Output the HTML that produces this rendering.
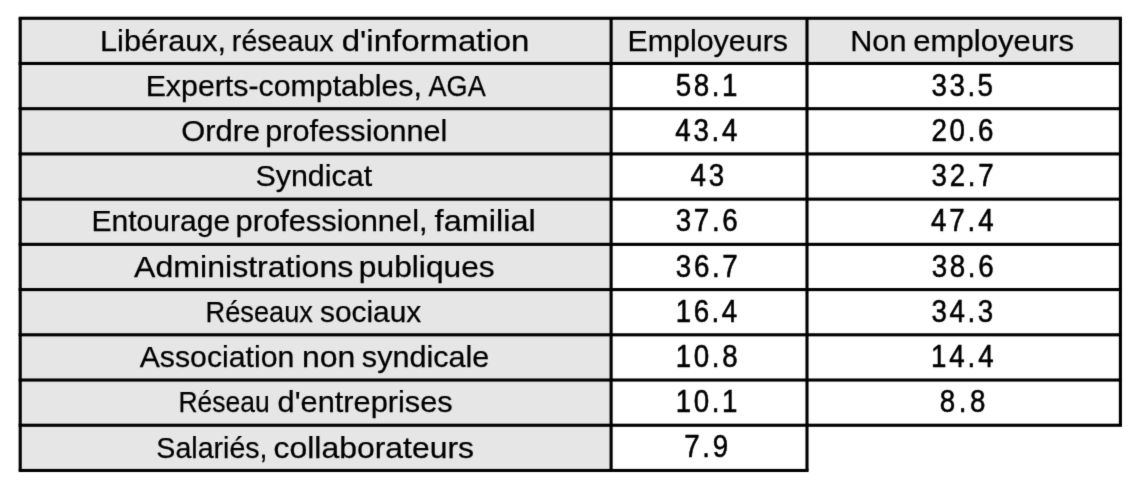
<!DOCTYPE html>
<html lang="fr">
<head>
<meta charset="utf-8">
<title>Libéraux, réseaux d&#39;information</title>
<style>
html,body{margin:0;padding:0;background:#fff;}
body{width:1142px;height:488px;overflow:hidden;}
svg{display:block;}
text{font-family:"Liberation Sans",sans-serif;font-size:29.8px;fill:#000;stroke:#000;stroke-width:0.25px;}
text.n{font-size:30.8px;stroke-width:0.55px;}
</style>
</head>
<body>
<svg width="1142" height="488" viewBox="0 0 1142 488">
<defs><filter id="soft" x="0" y="0" width="100%" height="100%" color-interpolation-filters="sRGB"><feConvolveMatrix order="3" kernelMatrix="0.01134 0.08382 0.01134 0.08382 0.61935 0.08382 0.01134 0.08382 0.01134" divisor="1" edgeMode="duplicate" preserveAlpha="true"/></filter></defs>
<g filter="url(#soft)">
<rect x="0" y="0" width="1142" height="488" fill="#fff"/>
<!-- shaded header row and first column -->
<rect x="20.20" y="18.25" width="1100.20" height="45.22" fill="#e6e6e6"/>
<rect x="20.20" y="18.25" width="590.90" height="452.22" fill="#e6e6e6"/>
<!-- horizontal rules -->
<rect x="18.65" y="16.70" width="1103.30" height="3.10" fill="#000"/>
<rect x="18.65" y="61.92" width="1103.30" height="3.10" fill="#000"/>
<rect x="18.65" y="107.14" width="1103.30" height="3.10" fill="#000"/>
<rect x="18.65" y="152.37" width="1103.30" height="3.10" fill="#000"/>
<rect x="18.65" y="197.59" width="1103.30" height="3.10" fill="#000"/>
<rect x="18.65" y="242.81" width="1103.30" height="3.10" fill="#000"/>
<rect x="18.65" y="288.03" width="1103.30" height="3.10" fill="#000"/>
<rect x="18.65" y="333.25" width="1103.30" height="3.10" fill="#000"/>
<rect x="18.65" y="378.48" width="1103.30" height="3.10" fill="#000"/>
<rect x="18.65" y="423.70" width="1103.30" height="3.10" fill="#000"/>
<rect x="18.65" y="468.92" width="789.90" height="3.10" fill="#000"/>
<!-- vertical rules -->
<rect x="18.65" y="18.25" width="3.10" height="452.22" fill="#000"/>
<rect x="609.55" y="18.25" width="3.10" height="452.22" fill="#000"/>
<rect x="805.45" y="18.25" width="3.10" height="452.22" fill="#000"/>
<rect x="1118.85" y="18.25" width="3.10" height="407.00" fill="#000"/>
<!-- cell text -->
<text y="50.50"><tspan x="100.09" textLength="126.01" lengthAdjust="spacingAndGlyphs">Libéraux,</tspan> <tspan x="231.86" textLength="101.83" lengthAdjust="spacingAndGlyphs">réseaux</tspan> <tspan x="341.74" textLength="187.74" lengthAdjust="spacingAndGlyphs">d&#39;information</tspan></text>
<text y="95.72"><tspan x="145.67" textLength="276.29" lengthAdjust="spacingAndGlyphs">Experts-comptables,</tspan> <tspan x="428.54" textLength="57.19" lengthAdjust="spacingAndGlyphs">AGA</tspan></text>
<text y="140.94"><tspan x="181.25" textLength="78.87" lengthAdjust="spacingAndGlyphs">Ordre</tspan> <tspan x="265.34" textLength="181.99" lengthAdjust="spacingAndGlyphs">professionnel</tspan></text>
<text y="186.17"><tspan x="255.44" textLength="116.71" lengthAdjust="spacingAndGlyphs">Syndicat</tspan></text>
<text y="231.39"><tspan x="91.47" textLength="138.74" lengthAdjust="spacingAndGlyphs">Entourage</tspan> <tspan x="235.48" textLength="192.14" lengthAdjust="spacingAndGlyphs">professionnel,</tspan> <tspan x="434.64" textLength="101.17" lengthAdjust="spacingAndGlyphs">familial</tspan></text>
<text y="276.61"><tspan x="134.12" textLength="219.23" lengthAdjust="spacingAndGlyphs">Administrations</tspan> <tspan x="358.89" textLength="135.85" lengthAdjust="spacingAndGlyphs">publiques</tspan></text>
<text y="321.83"><tspan x="205.50" textLength="107.39" lengthAdjust="spacingAndGlyphs">Réseaux</tspan> <tspan x="319.96" textLength="101.32" lengthAdjust="spacingAndGlyphs">sociaux</tspan></text>
<text y="367.05"><tspan x="139.71" textLength="154.64" lengthAdjust="spacingAndGlyphs">Association</tspan> <tspan x="302.03" textLength="53.31" lengthAdjust="spacingAndGlyphs">non</tspan> <tspan x="361.86" textLength="127.51" lengthAdjust="spacingAndGlyphs">syndicale</tspan></text>
<text y="412.28"><tspan x="178.47" textLength="91.21" lengthAdjust="spacingAndGlyphs">Réseau</tspan> <tspan x="277.56" textLength="175.20" lengthAdjust="spacingAndGlyphs">d&#39;entreprises</tspan></text>
<text y="457.50"><tspan x="156.37" textLength="111.16" lengthAdjust="spacingAndGlyphs">Salariés,</tspan> <tspan x="273.59" textLength="200.47" lengthAdjust="spacingAndGlyphs">collaborateurs</tspan></text>
<text y="50.50"><tspan x="627.46" textLength="160.52" lengthAdjust="spacingAndGlyphs">Employeurs</tspan></text>
<text class="n" transform="scale(0.9 1)" y="95.72"><tspan x="750.93" textLength="68.42" lengthAdjust="spacing">58.1</tspan></text>
<text class="n" transform="scale(0.9 1)" y="140.94"><tspan x="750.35" textLength="68.91" lengthAdjust="spacing">43.4</tspan></text>
<text class="n" transform="scale(0.9 1)" y="186.17"><tspan x="767.19" textLength="37.35" lengthAdjust="spacing">43</tspan></text>
<text class="n" transform="scale(0.9 1)" y="231.39"><tspan x="750.95" textLength="68.62" lengthAdjust="spacing">37.6</tspan></text>
<text class="n" transform="scale(0.9 1)" y="276.61"><tspan x="750.96" textLength="68.78" lengthAdjust="spacing">36.7</tspan></text>
<text class="n" transform="scale(0.9 1)" y="321.83"><tspan x="750.85" textLength="68.31" lengthAdjust="spacing">16.4</tspan></text>
<text class="n" transform="scale(0.9 1)" y="367.05"><tspan x="750.79" textLength="68.83" lengthAdjust="spacing">10.8</tspan></text>
<text class="n" transform="scale(0.9 1)" y="412.28"><tspan x="750.83" textLength="68.43" lengthAdjust="spacing">10.1</tspan></text>
<text class="n" transform="scale(0.9 1)" y="457.50"><tspan x="760.34" textLength="48.71" lengthAdjust="spacing">7.9</tspan></text>
<text y="50.50"><tspan x="850.26" textLength="56.17" lengthAdjust="spacingAndGlyphs">Non</tspan> <tspan x="913.31" textLength="160.86" lengthAdjust="spacingAndGlyphs">employeurs</tspan></text>
<text class="n" transform="scale(0.9 1)" y="95.72"><tspan x="1035.13" textLength="68.21" lengthAdjust="spacing">33.5</tspan></text>
<text class="n" transform="scale(0.9 1)" y="140.94"><tspan x="1034.87" textLength="69.05" lengthAdjust="spacing">20.6</tspan></text>
<text class="n" transform="scale(0.9 1)" y="186.17"><tspan x="1035.12" textLength="68.88" lengthAdjust="spacing">32.7</tspan></text>
<text class="n" transform="scale(0.9 1)" y="231.39"><tspan x="1034.34" textLength="69.67" lengthAdjust="spacing">47.4</tspan></text>
<text class="n" transform="scale(0.9 1)" y="276.61"><tspan x="1035.23" textLength="68.77" lengthAdjust="spacing">38.6</tspan></text>
<text class="n" transform="scale(0.9 1)" y="321.83"><tspan x="1035.12" textLength="68.34" lengthAdjust="spacing">34.3</tspan></text>
<text class="n" transform="scale(0.9 1)" y="367.05"><tspan x="1034.57" textLength="69.41" lengthAdjust="spacing">14.4</tspan></text>
<text class="n" transform="scale(0.9 1)" y="412.28"><tspan x="1044.04" textLength="50.97" lengthAdjust="spacing">8.8</tspan></text>
</g>
</svg>
</body>
</html>
